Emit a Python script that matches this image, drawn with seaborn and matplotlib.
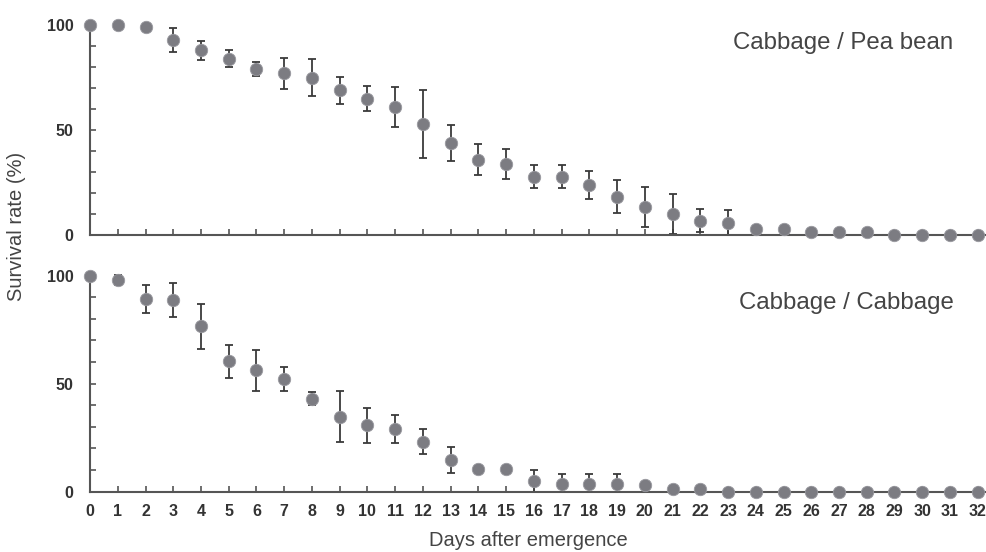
import numpy as np
import pandas as pd
import matplotlib
matplotlib.use("Agg")
import matplotlib.pyplot as plt
from matplotlib.ticker import MultipleLocator
import seaborn as sns

days = list(range(33))

# Cabbage / Pea bean (top panel)
pea_mean = [100, 100, 99, 93, 88, 84, 79, 77, 75, 69, 65, 61, 53, 44, 36, 34, 28,
            28, 24, 18.5, 13.5, 10, 7, 6, 3, 3, 1.5, 1.5, 1.5, 0, 0, 0, 0]
pea_err = [0, 0, 0, 5.7, 4.5, 4.1, 3.3, 7.5, 8.7, 6.3, 6.0, 9.4, 16.2, 8.4, 7.3, 7.3, 5.6,
           5.6, 6.5, 7.9, 9.5, 9.5, 5.4, 6.0, 0, 0, 0, 0, 0, 0, 0, 0, 0]

# Cabbage / Cabbage (bottom panel)
cab_mean = [100, 98, 89, 88.7, 76.6, 60.3, 56.1, 52, 43.1, 34.7, 30.6, 29, 23.1, 14.7, 10.4, 10.4, 5,
            3.4, 3.4, 3.4, 3, 1.2, 1.2, 0, 0, 0, 0, 0, 0, 0, 0, 0, 0]
cab_err = [0, 2.5, 6.5, 7.8, 10.5, 7.8, 9.7, 5.5, 2.8, 11.7, 8.2, 6.5, 5.7, 6.1, 0, 0, 5.0,
           4.5, 4.5, 4.5, 0, 0, 0, 0, 0, 0, 0, 0, 0, 0, 0, 0, 0]

panel_titles = ["Cabbage / Pea bean", "Cabbage / Cabbage"]

sns.set_style("ticks")
plt.rcParams["font.family"] = ["Liberation Sans", "DejaVu Sans"]

fig = plt.figure(figsize=(9.86, 5.52), dpi=100)
ax_top = fig.add_axes([0.0913, 0.5734, 0.9087, 0.3813])
ax_bot = fig.add_axes([0.0913, 0.1096, 0.9087, 0.3909])

panels = [
    (ax_top, pea_mean, pea_err, panel_titles[0], (0.840, 0.914)),
    (ax_bot, cab_mean, cab_err, panel_titles[1], (0.844, 0.873)),
]

for ax, mean, err, title, tpos in panels:
    df = pd.DataFrame({"day": days, "survival": mean, "err": err})
    lower = np.minimum(df["err"], df["survival"])
    has_err = df["err"] > 0
    ax.errorbar(df.loc[has_err, "day"], df.loc[has_err, "survival"],
                yerr=[lower[has_err], df.loc[has_err, "err"]],
                fmt="none", ecolor="#3a3a3a", elinewidth=1.3, capsize=3.2,
                capthick=1.3, zorder=2, clip_on=False)
    sns.scatterplot(data=df, x="day", y="survival", ax=ax, color="#7c7c82",
                    s=80, edgecolor="#9a9aa0", linewidth=0.6, zorder=3,
                    clip_on=False, legend=False)
    ax.set_xlim(0, 32.3)
    ax.set_ylim(0, 100)
    ax.set_yticks([0, 50, 100])
    ax.yaxis.set_minor_locator(MultipleLocator(10))
    ax.set_xticks(days)
    ax.tick_params(axis="both", which="both", direction="in", length=4,
                   width=1.2, color="#555555")
    ax.tick_params(axis="y", which="major", pad=12, labelsize=11.5,
                   labelcolor="#333333")
    ax.tick_params(axis="x", which="major", pad=9, labelsize=11.5,
                   labelcolor="#333333")
    for lab in ax.get_yticklabels() + ax.get_xticklabels():
        lab.set_fontweight("bold")
    ax.set_xlabel("")
    ax.set_ylabel("")
    for side in ["top", "right"]:
        ax.spines[side].set_visible(False)
    for side in ["left", "bottom"]:
        ax.spines[side].set_color("#555555")
        ax.spines[side].set_linewidth(1.5)
    ax.text(tpos[0], tpos[1], title, transform=ax.transAxes, ha="center",
            va="center", fontsize=17.3, color="#444444")

ax_top.tick_params(axis="x", labelbottom=False)

fig.text(0.017, 0.589, "Survival rate (%)", rotation=90, ha="center",
         va="center", fontsize=14.5, color="#444444")
fig.text(0.5355, 0.0217, "Days after emergence", ha="center", va="center",
         fontsize=14.5, color="#444444")

fig.savefig("out.png", dpi=100)
